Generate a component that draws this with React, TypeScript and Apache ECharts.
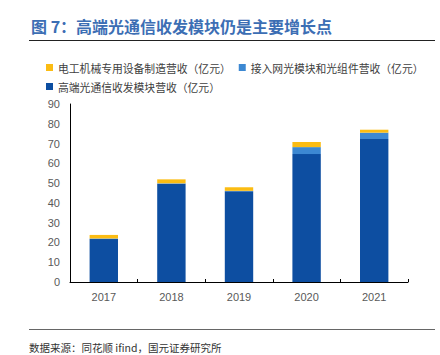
import React, { useEffect, useRef } from "react";
import * as echarts from "echarts";

const years = ["2017", "2018", "2019", "2020", "2021"];
const highEnd = [21.7, 49.7, 45.9, 64.7, 72.3];
const access = [0.3, 0.2, 0.2, 3.5, 3.2];
const equipment = [1.8, 2.0, 1.8, 2.6, 1.5];

const nameEquip = "电工机械专用设备制造营收（亿元）";
const nameAccess = "接入网光模块和光组件营收（亿元）";
const nameHigh = "高端光通信收发模块营收（亿元）";

const FONT = "'Noto Sans CJK SC', 'Noto Sans', sans-serif";

export default function App() {
  const ref = useRef<HTMLDivElement>(null);
  useEffect(() => {
    if (!ref.current) return;
    const chart = echarts.init(ref.current, undefined, { renderer: "svg" });
    chart.setOption({
      animation: false,
      textStyle: { fontFamily: FONT },
      grid: { left: 70, right: 32, top: 104, bottom: 73 },
      legend: {
        left: 41,
        top: 57,
        width: 390,
        itemWidth: 7,
        itemHeight: 7,
        itemGap: 8,
        icon: "rect",
        data: [nameEquip, nameAccess, nameHigh],
        textStyle: { fontSize: 10.8, color: "#404040", lineHeight: 11, fontFamily: FONT },
      },
      xAxis: {
        type: "category",
        data: years,
        axisLine: { lineStyle: { color: "#000", width: 1 } },
        axisTick: { show: true, inside: true, length: 3, lineStyle: { color: "#000" } },
        axisLabel: { color: "#595959", fontSize: 11, margin: 9, fontFamily: "Liberation Sans, Arial, sans-serif" },
      },
      yAxis: {
        type: "value",
        min: 0,
        max: 90,
        interval: 10,
        splitLine: { show: false },
        axisLine: { show: true, lineStyle: { color: "#000", width: 1 } },
        axisTick: { show: false },
        axisLabel: { color: "#595959", fontSize: 11, margin: 10, fontFamily: "Liberation Sans, Arial, sans-serif" },
      },
      series: [
        {
          name: nameHigh,
          type: "bar",
          stack: "t",
          data: highEnd,
          barWidth: "42%",
          itemStyle: { color: "#0D4EA1" },
        },
        {
          name: nameAccess,
          type: "bar",
          stack: "t",
          data: access,
          itemStyle: { color: "#3C88D2" },
        },
        {
          name: nameEquip,
          type: "bar",
          stack: "t",
          data: equipment,
          itemStyle: { color: "#FBBC13" },
        },
      ],
      graphic: [
        {
          type: "text",
          left: 31,
          top: 18,
          style: {
            text: "图 7：高端光通信收发模块仍是主要增长点",
            fontSize: 16,
            fontWeight: "bold",
            fill: "#3C6EB4",
            fontFamily: FONT,
          },
        },
        {
          type: "line",
          shape: { x1: 29, y1: 40.5, x2: 435, y2: 40.5 },
          style: { stroke: "#222", lineWidth: 1 },
        },
        {
          type: "line",
          shape: { x1: 29, y1: 329.5, x2: 435, y2: 329.5 },
          style: { stroke: "#666", lineWidth: 1 },
        },
        {
          type: "text",
          left: 29,
          top: 342,
          style: {
            text: "数据来源：同花顺 ifind，国元证券研究所",
            fontSize: 10.5,
            fill: "#333",
            fontFamily: FONT,
          },
        },
      ],
    });
    return () => chart.dispose();
  }, []);
  return <div ref={ref} style={{ width: 440, height: 355, position: "absolute", left: 0, top: 0 }} />;
}
